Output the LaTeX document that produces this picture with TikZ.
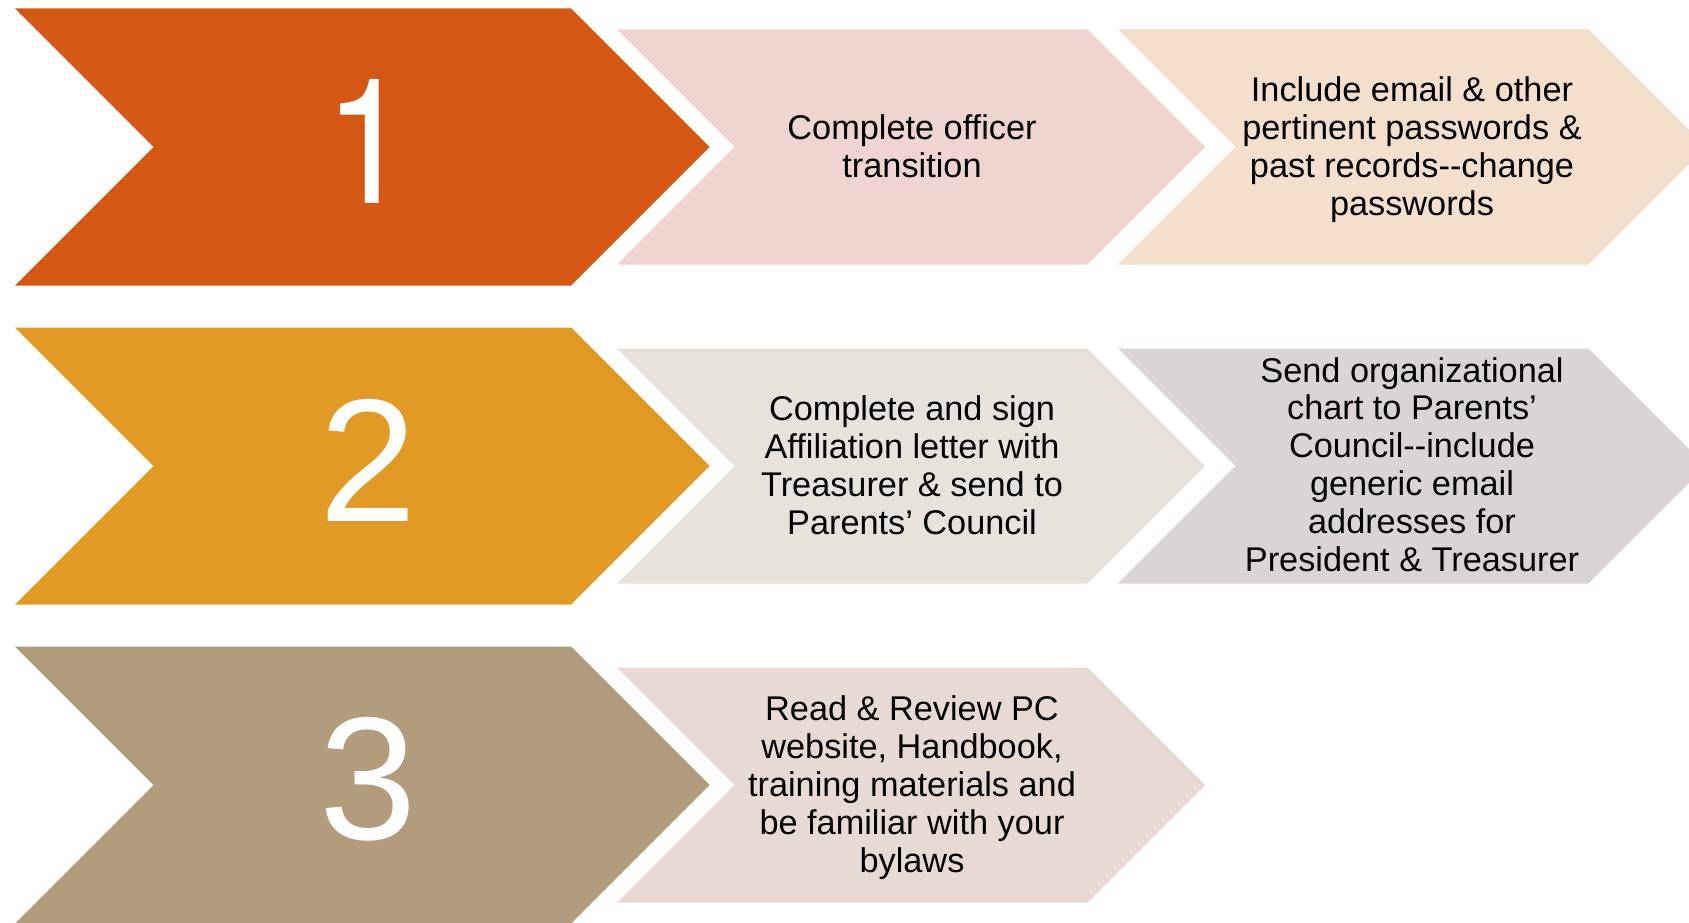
\documentclass[tikz,border=0pt]{standalone}
\usepackage{fontspec}
\setmainfont{Liberation Sans}
\newfontfamily\onefont{TeX Gyre Heros}
\definecolor{corange}{HTML}{D55714}
\definecolor{cgold}{HTML}{E29A27}
\definecolor{ctan}{HTML}{B29C7D}
\definecolor{cpink}{HTML}{F0D4D0}
\definecolor{cpeach}{HTML}{F4DFCD}
\definecolor{cbeige}{HTML}{E7E2DC}
\definecolor{cgrey}{HTML}{DAD5D4}
\definecolor{crose}{HTML}{E8DAD3}
\tikzset{
  bigchev/.pic={\path[pic actions] (0,-138.5) -- (556,-138.5) -- (694.5,0) -- (556,138.5) -- (0,138.5) -- (138.5,0) -- cycle;},
  smallchev/.pic={\path[pic actions] (0,-117.5) -- (470.5,-117.5) -- (588,0) -- (470.5,117.5) -- (0,117.5) -- (117.5,0) -- cycle;},
  txt/.style={font=\fontsize{34.3}{37.9}\selectfont, align=center, text=black, inner sep=0pt},
  num/.style={font=\fontsize{175}{175}\selectfont, text=white, inner sep=0pt},
}
\begin{document}
\begin{tikzpicture}[x=1pt,y=-1pt]
\path[use as bounding box, clip] (0,0) rectangle (1689,923);
\fill[white] (0,0) rectangle (1689,923);
% row 1
\pic[fill=corange] at (15,147) {bigchev};
\pic[fill=cpink] at (617,147) {smallchev};
\pic[fill=cpeach] at (1118,147) {smallchev};
\node[num, font=\onefont\fontsize{175}{175}\selectfont, xscale=0.9] (n1) at (368,141.5) {1};
\node[txt] (t1a) at (912,146.5) {Complete officer\\transition};
\node[txt] (t1b) at (1412,149.5) {Include email \& other\\pertinent passwords \&\\past records-{}-change\\passwords};
% row 2
\pic[fill=cgold] at (15,466) {bigchev};
\pic[fill=cbeige] at (617,466) {smallchev};
\pic[fill=cgrey] at (1118,466) {smallchev};
\node[num] (n2) at (368,460.5) {2};
\node[txt] (t2a) at (912,465) {Complete and sign\\Affiliation letter with\\Treasurer \& send to\\Parents’ Council};
\node[txt] (t2b) at (1412,464.5) {Send organizational\\chart to Parents’\\Council-{}-include\\generic email\\addresses for\\President \& Treasurer};
% row 3
\pic[fill=ctan] at (15,785) {bigchev};
\pic[fill=crose] at (617,785) {smallchev};
\node[num] (n3) at (368,779.5) {3};
\node[txt] (t3a) at (912,787.5) {Read \& Review PC\\website, Handbook,\\training materials and\\be familiar with your\\bylaws};
\end{tikzpicture}
\end{document}
